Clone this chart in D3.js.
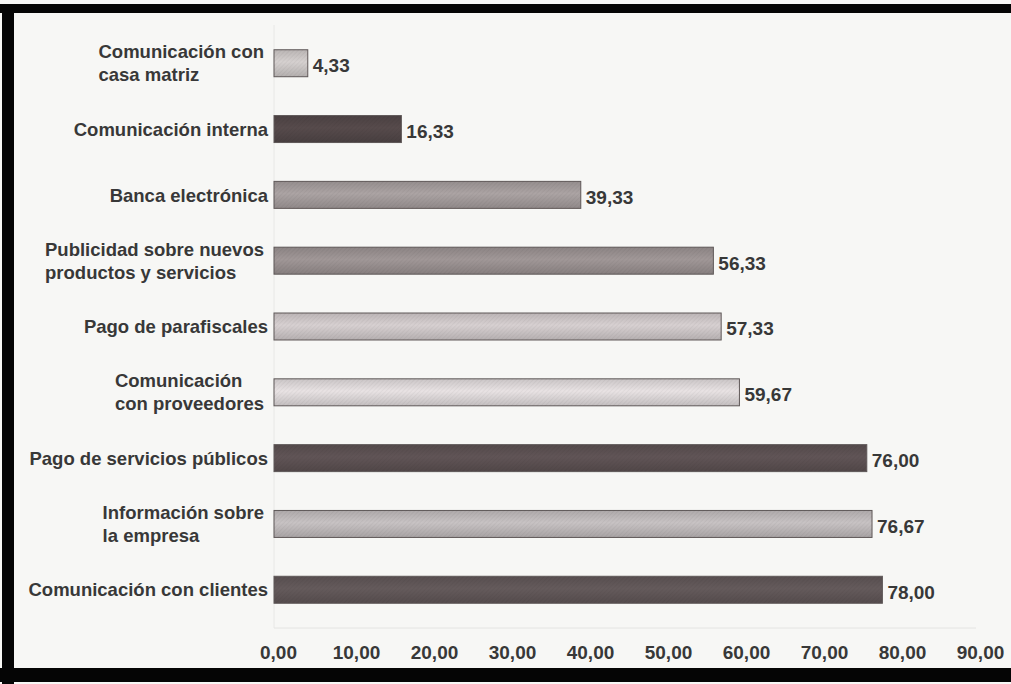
<!DOCTYPE html>
<html lang="es">
<head>
<meta charset="utf-8">
<title>Uso de medios electrónicos</title>
<script src="https://d3js.org/d3.v7.min.js"></script>
<style>
  html, body { margin: 0; padding: 0; background: #fafafa; }
  svg { display: block; }
  text { font-family: "Liberation Sans", Arial, sans-serif; font-weight: bold; fill: #383838; }
</style>
</head>
<body>
<script>
// categorias (de arriba hacia abajo)
const categories = [
  ['Comunicación con', 'casa matriz'],
  ['Comunicación interna'],
  ['Banca electrónica'],
  ['Publicidad sobre nuevos', 'productos y servicios'],
  ['Pago de parafiscales'],
  ['Comunicación', 'con proveedores'],
  ['Pago de servicios públicos'],
  ['Información sobre', 'la empresa'],
  ['Comunicación con clientes']
];
const values = [4.33, 16.33, 39.33, 56.33, 57.33, 59.67, 76.00, 76.67, 78.00];
const barColors = ['#cbc6c5', '#524748', '#a39b9b', '#999090', '#cdc6c7', '#ddd7d8', '#5c5152', '#beb9ba', '#605657'];
const tickValues = [0, 10, 20, 30, 40, 50, 60, 70, 80, 90];

const w = 1011, h = 684;
const fmt = v => d3.format('.2f')(v).replace('.', ',');

const svg = d3.select('body').append('svg')
  .attr('width', w)
  .attr('height', h);

// papel
svg.append('rect').attr('width', w).attr('height', h).attr('fill', '#f7f7f5');

const x = d3.scaleLinear().domain([0, 90]).range([274, 976]);
const y = d3.scaleBand()
  .domain(d3.range(values.length))
  .range([30, 623])
  .paddingInner(0.59)
  .paddingOuter(0.3);

// degradados para las barras
const defs = svg.append('defs');
barColors.forEach((c, i) => {
  const g = defs.append('linearGradient')
    .attr('id', 'grad' + i)
    .attr('x1', 0).attr('y1', 0).attr('x2', 0).attr('y2', 1);
  g.append('stop').attr('offset', '0%').attr('stop-color', d3.color(c).darker(0.25));
  g.append('stop').attr('offset', '45%').attr('stop-color', d3.color(c).brighter(0.15));
  g.append('stop').attr('offset', '100%').attr('stop-color', d3.color(c).darker(0.35));
});
const hatch = defs.append('pattern')
  .attr('id', 'hatch')
  .attr('patternUnits', 'userSpaceOnUse')
  .attr('width', 3).attr('height', 3)
  .attr('patternTransform', 'rotate(45)');
hatch.append('line')
  .attr('x1', 0).attr('y1', 0).attr('x2', 0).attr('y2', 3)
  .attr('stroke', '#000').attr('stroke-opacity', 0.08).attr('stroke-width', 1);

// lineas de ejes, muy tenues
svg.append('line')
  .attr('x1', x(0)).attr('x2', x(0))
  .attr('y1', 25).attr('y2', 628)
  .attr('stroke', '#e8e8e6');
svg.append('line')
  .attr('x1', x(0)).attr('x2', x(90))
  .attr('y1', 628).attr('y2', 628)
  .attr('stroke', '#e4e4e2');

// barras
const bars = svg.selectAll('g.bar')
  .data(values)
  .enter()
  .append('g')
  .attr('class', 'bar');

bars.append('rect')
  .attr('x', x(0))
  .attr('y', (d, i) => y(i))
  .attr('width', d => x(d) - x(0))
  .attr('height', y.bandwidth())
  .attr('fill', (d, i) => 'url(#grad' + i + ')')
  .attr('stroke', '#5f5858')
  .attr('stroke-width', 1);

bars.append('rect')
  .attr('x', x(0))
  .attr('y', (d, i) => y(i))
  .attr('width', d => x(d) - x(0))
  .attr('height', y.bandwidth())
  .attr('fill', 'url(#hatch)');

// etiquetas de valor
bars.append('text')
  .attr('x', d => x(d) + 5)
  .attr('y', (d, i) => y(i) + y.bandwidth() / 2 + 2)
  .attr('dy', '0.36em')
  .attr('font-size', 19)
  .text(d => fmt(d));

// etiquetas de categoria
const labelRight = 268;
categories.forEach((lines, i) => {
  const cy = y(i) + y.bandwidth() / 2;
  const lh = 23;
  const t = svg.append('text')
    .attr('font-size', 18.5)
    .attr('y', cy - (lines.length - 1) * lh / 2);
  lines.forEach((l, j) => {
    t.append('tspan')
      .attr('dy', j === 0 ? '0.36em' : lh)
      .text(l);
  });
  if (lines.length === 1) {
    t.attr('text-anchor', 'end').attr('x', labelRight);
  } else {
    const widths = [];
    t.selectAll('tspan').each(function () { widths.push(this.getComputedTextLength()); });
    const left = labelRight - 4 - d3.max(widths);
    t.selectAll('tspan').attr('x', left);
  }
});

// eje x
const xAxis = d3.axisBottom(x)
  .tickValues(tickValues)
  .tickSize(0)
  .tickPadding(0)
  .tickFormat(fmt);
const ax = svg.append('g')
  .attr('transform', 'translate(4,645)')
  .call(xAxis);
ax.select('.domain').remove();
ax.selectAll('text')
  .attr('font-size', 19)
  .style('font-family', '"Liberation Sans", Arial, sans-serif')
  .style('font-weight', 'bold')
  .attr('fill', '#3c3c3c');

// marco negro de la foto
svg.append('rect').attr('x', 0).attr('y', 4).attr('width', w).attr('height', 9).attr('fill', '#050505');
svg.append('rect').attr('x', 2).attr('y', 4).attr('width', 12).attr('height', h).attr('fill', '#050505');
svg.append('rect').attr('x', 0).attr('y', 668).attr('width', w).attr('height', 14).attr('fill', '#050505');
</script>
</body>
</html>
